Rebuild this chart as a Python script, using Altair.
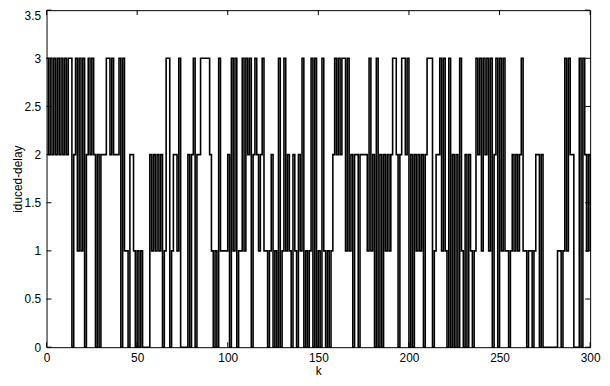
import altair as alt
import pandas as pd

k = list(range(301))
delay = [
    3, 2, 3, 2, 3, 2, 3, 2, 3, 2,
    3, 2, 3, 3, 0, 2, 3, 1, 3, 1,
    3, 0, 2, 3, 2, 3, 2, 0, 2, 0,
    2, 2, 2, 3, 3, 2, 3, 2, 2, 2,
    3, 0, 3, 1, 1, 0, 2, 2, 1, 0,
    1, 0, 1, 0, 0, 0, 0, 2, 1, 2,
    1, 2, 1, 2, 0, 1, 3, 3, 0, 1,
    2, 2, 1, 3, 0, 0, 0, 0, 2, 0,
    2, 3, 0, 2, 2, 3, 3, 3, 3, 3,
    2, 1, 0, 1, 0, 3, 1, 1, 1, 1,
    2, 0, 3, 1, 3, 0, 1, 1, 3, 1,
    3, 2, 3, 0, 2, 3, 2, 1, 2, 3,
    1, 1, 0, 1, 2, 0, 1, 0, 3, 0,
    1, 3, 1, 2, 1, 0, 2, 1, 0, 2,
    1, 3, 0, 1, 0, 1, 3, 0, 3, 0,
    1, 0, 3, 1, 0, 1, 0, 1, 2, 3,
    2, 3, 2, 3, 3, 1, 3, 1, 2, 0,
    2, 2, 0, 2, 2, 2, 2, 1, 3, 1,
    2, 0, 3, 0, 2, 0, 2, 1, 2, 1,
    2, 3, 3, 2, 0, 2, 3, 3, 2, 3,
    0, 2, 0, 2, 1, 2, 1, 2, 0, 2,
    3, 3, 3, 0, 1, 2, 2, 3, 1, 3,
    1, 0, 3, 0, 2, 0, 2, 0, 3, 1,
    0, 2, 0, 2, 1, 0, 1, 3, 2, 3,
    1, 3, 2, 3, 1, 3, 0, 2, 3, 0,
    3, 1, 3, 1, 1, 0, 1, 2, 1, 2,
    1, 2, 3, 1, 1, 0, 1, 1, 0, 1,
    2, 2, 0, 2, 0, 0, 0, 0, 0, 0,
    0, 0, 1, 1, 0, 1, 3, 1, 3, 2,
    2, 0, 0, 0, 3, 0, 3, 2, 1, 2,
    1,
]
xticks = [0, 50, 100, 150, 200, 250, 300]
yticks = [0, 0.5, 1, 1.5, 2, 2.5, 3, 3.5]

W, H = 550, 341
FONT = "Liberation Sans"

df = pd.DataFrame({"k": k, "delay": delay})
xt = pd.DataFrame({"v": xticks})
yt = pd.DataFrame({"v": yticks})

xs = alt.Scale(domain=[0, 300], nice=False, zero=False)
ys = alt.Scale(domain=[0, 3.5], nice=False)

xaxis = alt.Axis(
    values=xticks, title="k", ticks=False, domain=False, grid=False,
    labelPadding=5, titlePadding=3, labelFont=FONT, titleFont=FONT,
    labelFontSize=12, titleFontSize=12, labelColor="black",
    titleColor="black", titleFontWeight="normal", labelFlush=False)
yaxis = alt.Axis(
    values=yticks, title="iduced-delay", ticks=False, domain=False,
    grid=False, labelPadding=6, titlePadding=0, labelFont=FONT,
    titleFont=FONT, labelFontSize=12, titleFontSize=12,
    labelColor="black", titleColor="black", titleFontWeight="normal",
    labelExpr="format(datum.value, '~g')", labelFlush=False,
    labelBaseline={"expr": "datum.value == 3.5 ? 'top' : 'middle'"})

line = alt.Chart(df).mark_line(
    interpolate="step-after", color="black", strokeWidth=1.6
).encode(
    x=alt.X("k:Q", scale=xs, axis=xaxis),
    y=alt.Y("delay:Q", scale=ys, axis=yaxis),
)

xb = alt.Chart(xt).mark_rule(color="black", strokeWidth=1).encode(
    x=alt.X("v:Q", scale=xs), y=alt.value(H), y2=alt.value(H - 5))
xtop = alt.Chart(xt).mark_rule(color="black", strokeWidth=1).encode(
    x=alt.X("v:Q", scale=xs), y=alt.value(0), y2=alt.value(5))
yl = alt.Chart(yt).mark_rule(color="black", strokeWidth=1).encode(
    y=alt.Y("v:Q", scale=ys), x=alt.value(0), x2=alt.value(5))
yr = alt.Chart(yt).mark_rule(color="black", strokeWidth=1).encode(
    y=alt.Y("v:Q", scale=ys), x=alt.value(W), x2=alt.value(W - 5))

chart = alt.layer(line, xb, xtop, yl, yr).properties(
    width=W, height=H,
    autosize=alt.AutoSizeParams(type="none"),
    padding={"left": 39, "top": 0, "right": 12, "bottom": 29},
).configure_view(stroke="black", strokeWidth=1)

chart.save("out.html", embed_options={"renderer": "svg", "actions": False})
